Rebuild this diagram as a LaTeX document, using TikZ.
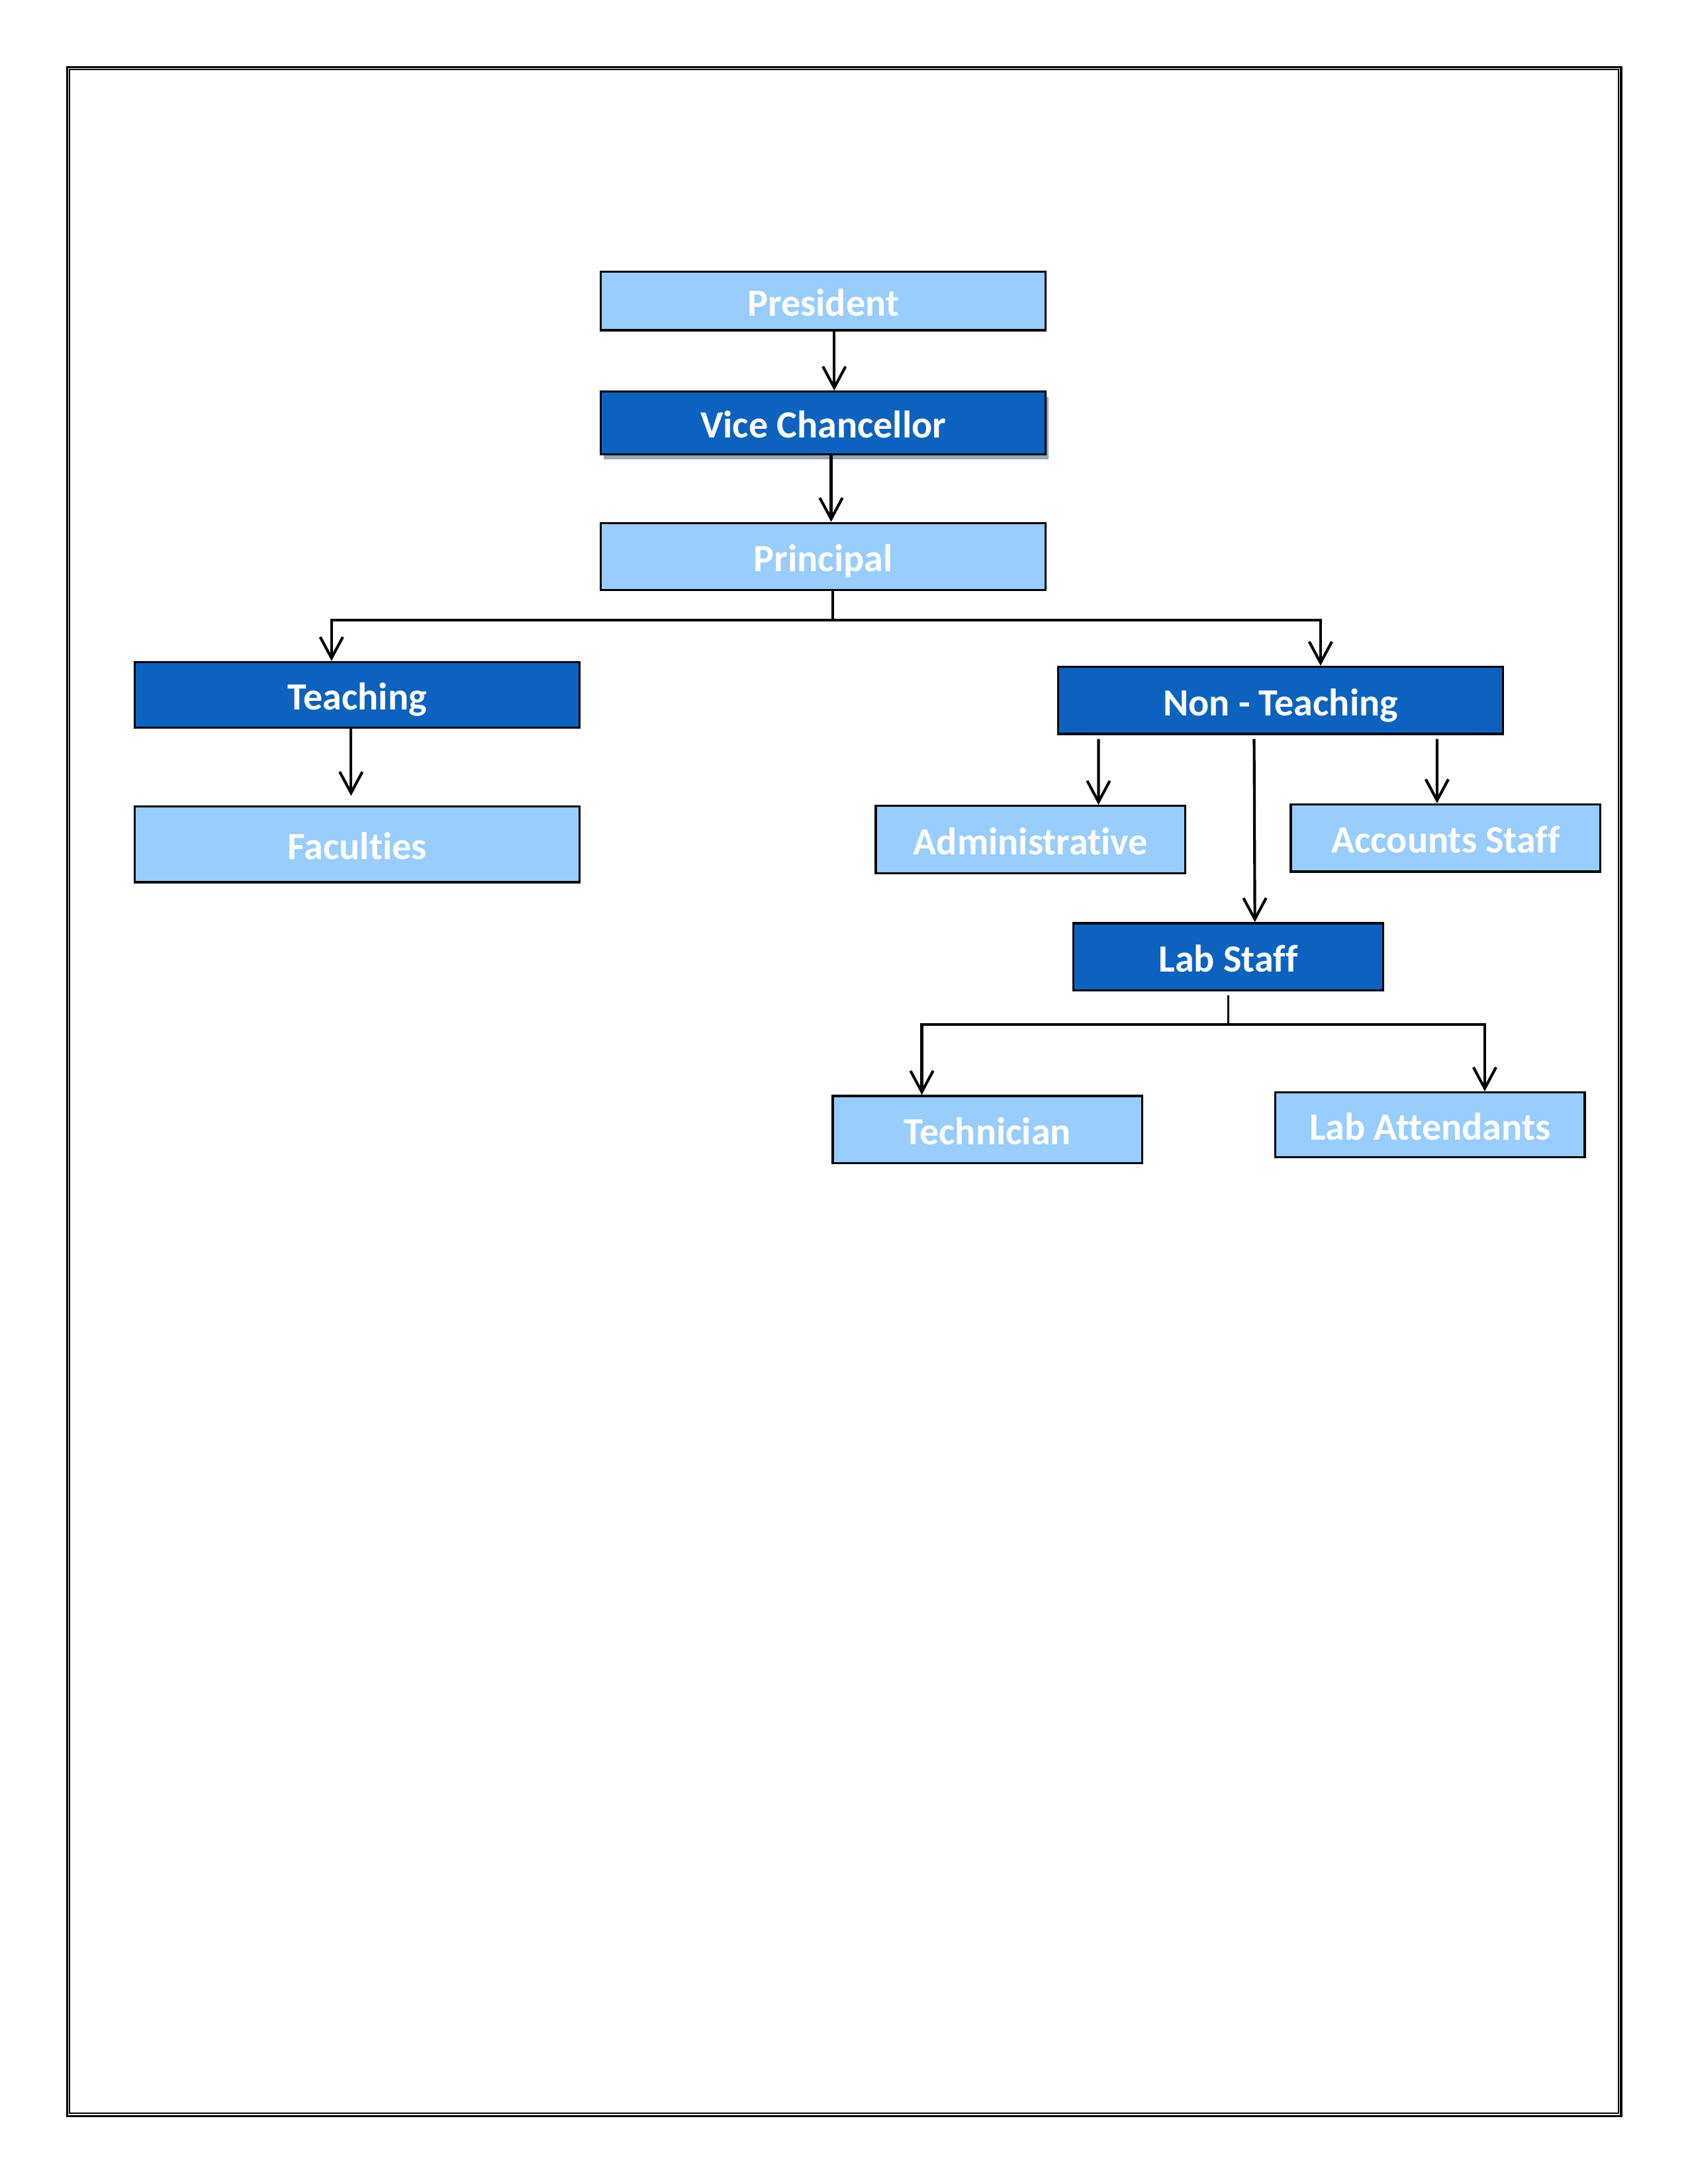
\documentclass[tikz,border=0pt]{standalone}
\usepackage{fontspec}
\setmainfont[Ligatures=NoCommon]{Carlito}
\usetikzlibrary{arrows.meta,positioning,calc,shadows}
\definecolor{boxL}{HTML}{99CCFF}
\definecolor{boxD}{HTML}{0D62C0}
\definecolor{shd}{HTML}{8FAAB4}

\begin{document}
\begin{tikzpicture}[box/.style={draw,line width=0.8pt,text=white,font=\fontsize{14}{16}\selectfont\bfseries,
  inner sep=0pt,text height=13pt,text depth=2pt,minimum height=0.86cm},lt/.style={box,fill=boxL},dk/.style={box,fill=boxD},
  wide/.style={minimum width=5.69cm},narrow/.style={minimum width=3.96cm},
  arr/.style={-{Straight Barb[length=2.7mm,width=2.9mm]},line width=1pt},ln/.style={line width=0.9pt}]
  \useasboundingbox (0,0) rectangle (21.59,-27.94);
  % page frame
  \draw[line width=0.75pt] (0.858,-0.858) rectangle (20.735,-27.07);
  \draw[line width=0.5pt] (0.89,-0.89) rectangle (20.70,-27.035);
  \node[lt,wide,minimum height=0.75cm] (pres) at (10.53,-3.85) {President};
  \node[dk,wide,minimum height=0.8cm,drop shadow={shadow xshift=0.35mm,shadow yshift=-0.7mm,fill=shd,opacity=1}]
    (vc) at (10.53,-5.41) {Vice Chancellor};
  \node[lt,wide] (prin) at (10.53,-7.12) {Principal};
  \node[dk,wide,minimum height=0.84cm] (teach) at (4.57,-8.89) {Teaching};
  \node[lt,wide,minimum height=0.97cm] (fac) at (4.57,-10.80) {Faculties};
  \node[dk,wide] (nont) at (16.38,-8.96) {Non - Teaching};
  \node[lt,narrow] (adm) at (13.18,-10.74) {Administrative};
  \node[lt,narrow] (acc) at (18.49,-10.72) {Accounts Staff};
  \node[dk,narrow] (lab) at (15.71,-12.24) {Lab Staff};
  \node[lt,narrow] (tech) at (12.63,-14.45) {Technician};
  \node[lt,narrow,minimum height=0.83cm] (att) at (18.29,-14.39) {Lab Attendants};
  \draw[arr] ([xshift=1.4mm]pres.south) -- ([xshift=1.4mm]vc.north);
  \draw[arr] ([xshift=1mm]vc.south) -- ([xshift=1mm]prin.north);
  \draw[ln] ([xshift=1.2mm]prin.south) -- ++(0,-0.37) coordinate (pj);
  \draw[arr] (pj) -| ([xshift=-3.3mm]teach.north);
  \draw[arr] (pj) -| ([xshift=5.1mm]nont.north);
  \draw[arr,shorten >=1.2mm] ([xshift=-0.8mm]teach.south) -- ([xshift=-0.8mm]fac.north);
  \draw[arr,shorten <=0.5mm] ([xshift=-23.3mm]nont.south) -- ([xshift=8.7mm]adm.north);
  \draw[arr,shorten <=0.5mm] ([xshift=-3.4mm]nont.south) -- ([xshift=3.4mm]lab.north);
  \draw[arr,shorten <=0.5mm] ([xshift=20mm]nont.south) -- ([xshift=-1.1mm]acc.north);
  \draw[ln,shorten <=0.5mm] (lab.south) -- ++(0,-0.42) coordinate (lj);
  \draw[arr] (lj) -| ([xshift=-8.4mm]tech.north);
  \draw[arr] (lj) -| ([xshift=7mm]att.north);
\end{tikzpicture}
\end{document}
